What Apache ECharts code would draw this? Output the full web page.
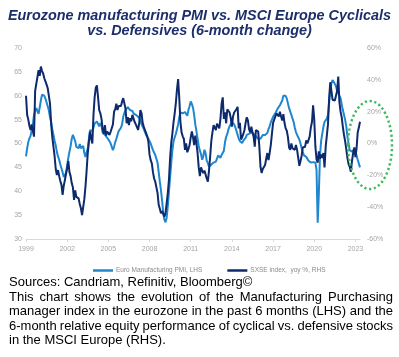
<!DOCTYPE html>
<html>
<head>
<meta charset="utf-8">
<script src="https://cdn.jsdelivr.net/npm/echarts@6/dist/echarts.min.js"></script>
<style>
html,body{margin:0;padding:0;background:#fff;}
#chart{width:399px;height:357px;}
</style>
</head>
<body>
<div id="chart"></div>
<script>
// ---- Data ----
const startYear = 1999;
const endYear = 2023, endMonth = 5;
const xTickYears = ['1999','2002','2005','2008','2011','2014','2017','2020','2023'];

// Euro Manufacturing PMI (LHS), monthly Jan 1999 .. May 2023
const pmi = [
  47.3,49.0,50.3,51.1,51.6,52.0,54.0,56.0,56.8,57.4,57.0,56.2, // 1999
  57.6,59.0,60.2,60.5,60.0,59.4,58.6,57.8,56.9,55.5,54.5,53.0, // 2000
  51.8,50.6,49.6,48.2,47.3,46.6,45.6,44.8,44.0,43.0,42.7,43.8, // 2001
  45.5,47.0,48.3,49.4,51.0,51.8,51.6,50.5,49.3,49.4,49.0,49.9, // 2002
  49.0,48.6,49.5,48.0,47.2,47.0,49.0,51.0,52.8,53.0,52.6,53.3, // 2003
  54.2,54.4,54.6,54.6,53.6,54.3,53.8,52.3,52.1,51.8,51.5,51.2, // 2004
  51.0,50.5,50.0,49.6,48.6,49.3,50.3,51.0,51.8,52.6,53.0,53.3, // 2005
  54.0,55.6,56.4,57.0,57.4,57.6,57.2,57.0,57.0,56.8,56.3,56.0, // 2006
  56.0,55.8,55.6,55.5,55.0,54.0,53.6,53.0,52.4,51.8,51.4,51.0, // 2007
  50.5,50.0,49.3,48.6,48.3,47.6,46.8,46.0,44.0,42.0,40.2,38.0, // 2008
  35.5,34.0,33.5,34.5,37.0,40.0,43.0,46.0,48.6,50.5,51.3,52.0, // 2009
  53.0,54.0,55.5,56.5,56.7,56.3,56.0,56.6,56.3,55.8,57.0,57.8, // 2010
  58.8,58.3,57.5,56.0,54.0,52.6,51.0,49.5,48.5,47.8,46.6,47.3, // 2011
  48.7,48.0,46.4,45.9,45.1,45.2,45.6,46.0,46.0,45.7,46.2,46.4, // 2012
  47.5,47.7,47.0,47.6,47.8,48.5,50.3,51.4,52.0,53.0,53.6,53.8, // 2013
  54.5,54.9,54.0,53.4,52.6,51.8,51.0,50.5,50.3,50.1,50.6,50.8, // 2014
  51.2,51.8,52.1,52.0,52.3,52.3,52.5,52.0,51.8,51.5,51.2,51.0, // 2015
  51.2,51.0,51.4,51.8,51.5,51.8,52.0,52.2,53.0,53.6,54.4,55.0, // 2016
  55.6,56.0,56.3,56.8,57.3,57.4,58.0,58.4,59.0,60.0,60.4,60.0, // 2017
  59.4,58.4,57.4,57.0,56.0,55.2,54.5,53.3,52.4,51.8,51.3,50.8, // 2018
  50.0,49.0,48.2,47.5,47.2,47.2,46.8,46.4,46.2,46.0,45.9,46.1, // 2019
  46.4,46.0,44.5,33.4,39.4,47.4,50.5,52.0,53.5,54.5,54.8,55.2, // 2020
  56.0,58.5,61.0,62.6,63.3,63.0,62.5,62.0,61.0,60.5,60.3,59.5, // 2021
  58.2,57.0,56.0,55.0,53.6,51.5,50.0,48.6,48.3,48.3,48.5,48.8, // 2022
  48.4,47.5,46.6,45.8,45.0                                      // 2023
];

// SXSE index, yoy % (RHS), monthly Jan 1999 .. May 2023
const sxse = [
  30,18,15,11,8.5,12,8,4.3,33,37.5,38.5,46,                 // 1999
  42.5,48.3,45.5,44,41,39,37,34.7,33.5,25,12,4,             // 2000
  -2,-8,-16,-19.8,-16.7,-20.5,-23.5,-26,-32.3,-26.5,-23,-19, // 2001
  -15.5,-11,-18,-20.5,-25,-27.5,-35.5,-29.5,-33.5,-33.4,-34.5,-38, // 2002
  -40.7,-45,-44,-35,-27,-17,-6,1,7.5,3,0,18,                // 2003
  29,35,36.5,29,21,19,15.5,9,6,11.6,5,7.5,                  // 2004
  6.5,5.4,7.4,8.5,12,20,21.5,25,21,23.5,24.5,23.5,          // 2005
  26.3,28.5,29.5,22,12.7,16.5,11.5,16,14,18,17,13.5,        // 2006
  12,13,8.5,13,21,19,13,10.5,8.5,6.5,4.5,1,                 // 2007
  -7,-10.5,-12.5,-18,-22,-24,-24,-31,-38.5,-41,-43.8,-42.5, // 2008
  -43.5,-46,-43.5,-37.5,-31,-22.5,-9,0.5,6.4,13.5,19,25.3,  // 2009
  34,40.5,28.5,13.5,7,4.5,3,-4,0,-5.5,-3.5,-1,              // 2010
  3.8,7.5,4,-1,5,0,-6,-15,-20.5,-15,-17,-18.5,              // 2011
  -17,-18,-22,-24,-17,-8.3,1.5,7,11.5,12.5,8.5,12.5,        // 2012
  11,9.5,15.5,25,29,15.5,19.5,12.7,21.5,20.5,19.5,16,       // 2013
  10.6,17,19.5,19,21.5,23,9.5,13,2.5,4,6,8.5,               // 2014
  13,16.5,14.5,9,7,10.5,7,4.3,-2,8.5,9.5,7.5,               // 2015
  -2,-14.6,-18.5,-16,-16.5,-13.5,-9.5,-6,-10.5,-6,-1,6,     // 2016
  13,15,17,19,18.5,17,20,17,14.5,18.5,13,9.5,               // 2017
  8,4,-2.5,-4,0,-3,-2,-4,-1,-4,-9,-14,                      // 2018
  -11,-7.5,-2.5,-3.5,-2,2,0,-0.5,4.3,10,13.5,24,            // 2019
  15,-2,-10,-12,-5,-9.5,-7,-9,-6,-15,-2,5,                  // 2020
  12,28,38.5,33,27.5,28.5,27,26,33,42,26,20,                // 2021
  16.5,10.5,5.5,1.5,-3.5,-9,-13,-14.6,-17.7,-11,-6,-2.5,    // 2022
  -8.5,-3,7,10,13.7                                         // 2023
];

const months = [];
for (let y = startYear; y <= endYear; y++) {
  for (let m = 1; m <= 12; m++) {
    if (y === endYear && m > endMonth) break;
    months.push(y + '-' + (m < 10 ? '0' + m : m));
  }
}

const titleText = 'Eurozone manufacturing PMI vs. MSCI Europe Cyclicals\nvs. Defensives (6-month change)';
const sourceText = 'Sources: Candriam, Refinitiv, Bloomberg\u00A9';
const captionLines = [
  'This chart shows the evolution of the Manufacturing Purchasing',
  'manager index in the eurozone in the past 6 months (LHS) and the',
  '6-month relative equity performance of cyclical vs. defensive stocks',
  'in the MSCI Europe (RHS).'
];

// ---- Layout / style ----
const FONT = '"Liberation Sans", Arial, sans-serif';
const capFont = '13px ' + FONT;
const measureCtx = document.createElement('canvas').getContext('2d');
measureCtx.font = capFont;

function textEl(txt, x, y) {
  return { type: 'text', x: x, y: y, silent: true,
    style: { text: txt, font: capFont, fill: '#000', verticalAlign: 'middle', textVerticalAlign: 'middle' } };
}
function justified(txt, x, y, width) {
  const words = txt.split(' ');
  const ws = words.map(w => measureCtx.measureText(w).width);
  const total = ws.reduce((a, b) => a + b, 0);
  const gap = (width - total) / (words.length - 1);
  const els = [];
  let cx = x;
  words.forEach((w, i) => { els.push(textEl(w, cx, y)); cx += ws[i] + gap; });
  return els;
}

const graphics = [];
graphics.push(textEl(sourceText, 9, 282));
const lineYs = [297, 311.5, 326, 340.5];
captionLines.forEach((l, i) => {
  if (i < captionLines.length - 1) graphics.push(...justified(l, 9, lineYs[i], 384));
  else graphics.push(textEl(l, 9, lineYs[i]));
});
graphics.push({
  type: 'ellipse', silent: true,
  shape: { cx: 370, cy: 145, rx: 22, ry: 44 },
  style: { fill: 'none', stroke: '#3dbb5c', lineWidth: 2.5, lineDash: [2.2, 2.6] },
  z: 100
});

const chart = echarts.init(document.getElementById('chart'), null, { renderer: 'canvas' });
const axisLabelStyle = { color: '#a6a6a6', fontSize: 7, fontFamily: FONT };

chart.setOption({
  animation: false,
  backgroundColor: '#fff',
  title: {
    text: titleText, left: 'center', top: 3,
    textStyle: { fontSize: 14.4, fontWeight: 'bold', fontStyle: 'italic', color: '#1c2f6b',
      fontFamily: FONT, lineHeight: 15.5 }
  },
  legend: {
    left: 88, top: 262, itemWidth: 20, itemHeight: 2.5, itemGap: 25, icon: 'rect',
    textStyle: { fontSize: 6.5, color: '#8c8c8c', fontFamily: FONT, padding: [0, 0, 0, -2] },
    data: ['Euro Manufacturing PMI, LHS', 'SXSE index,  yoy %, RHS']
  },
  grid: { left: 26, right: 39, top: 48, height: 191, containLabel: false },
  xAxis: {
    type: 'category', data: months, boundaryGap: false,
    axisLine: { onZero: false, lineStyle: { color: '#d9d9d9', width: 1 } },
    axisTick: { show: true, length: 3, interval: i => i % 36 === 0, lineStyle: { color: '#d9d9d9' } },
    axisLabel: Object.assign({}, axisLabelStyle, {
      interval: i => i % 36 === 0, margin: 7,
      formatter: v => { const y = v.slice(0, 4); return xTickYears.indexOf(y) >= 0 ? y : ''; }
    }),
    splitLine: { show: false }
  },
  yAxis: [
    { type: 'value', min: 30, max: 70, interval: 5, position: 'left',
      axisLine: { show: false }, axisTick: { show: false }, splitLine: { show: false },
      axisLabel: Object.assign({}, axisLabelStyle, { margin: 4 }) },
    { type: 'value', min: -60, max: 60, interval: 20, position: 'right',
      axisLine: { show: false }, axisTick: { show: false }, splitLine: { show: false },
      axisLabel: Object.assign({}, axisLabelStyle, { margin: 7, formatter: '{value}%' }) }
  ],
  series: [
    { name: 'Euro Manufacturing PMI, LHS', type: 'line', yAxisIndex: 0, data: pmi,
      showSymbol: false, symbol: 'none', lineStyle: { color: '#1f87d0', width: 2 }, itemStyle: { color: '#1f87d0' }, z: 2 },
    { name: 'SXSE index,  yoy %, RHS', type: 'line', yAxisIndex: 1, data: sxse,
      showSymbol: false, symbol: 'none', lineStyle: { color: '#0c2a6c', width: 2 }, itemStyle: { color: '#0c2a6c' }, z: 3 }
  ],
  graphic: graphics
});
</script>
</body>
</html>
